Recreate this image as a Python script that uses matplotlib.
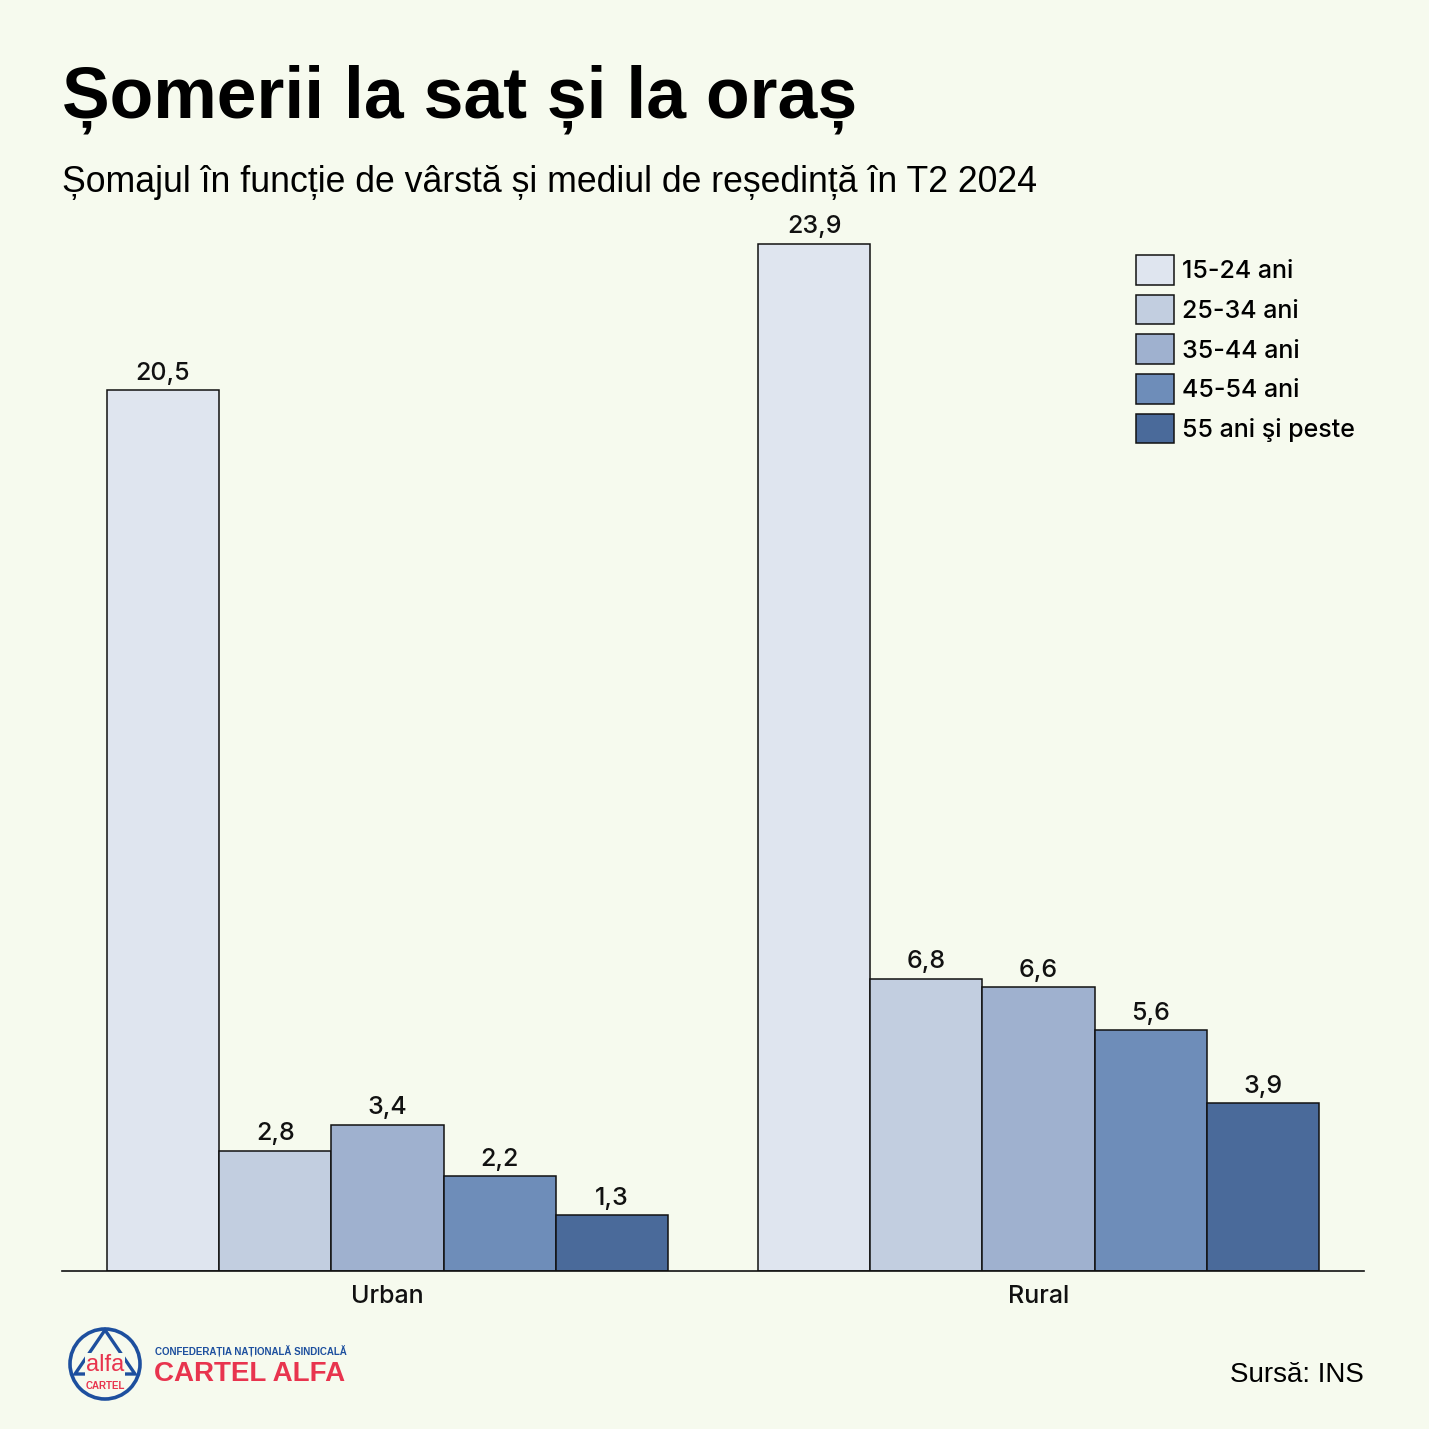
import matplotlib
matplotlib.use("Agg")
import matplotlib.pyplot as plt
import numpy as np
from matplotlib.patches import Circle, Polygon

# ---- data ----
categories = ["Urban", "Rural"]
age_groups = ["15-24 ani", "25-34 ani", "35-44 ani", "45-54 ani", "55 ani şi peste"]
values_15_24 = [20.5, 23.9]
values_25_34 = [2.8, 6.8]
values_35_44 = [3.4, 6.6]
values_45_54 = [2.2, 5.6]
values_55p = [1.3, 3.9]
series = [values_15_24, values_25_34, values_35_44, values_45_54, values_55p]

colors = ["#DFE5EF", "#C2CEE0", "#9FB1CF", "#6E8DB9", "#4A6A9A"]
BG = "#F6FAEE"
W = H = 1429

def fx(px):
    return px / W

def fy(py):
    return 1 - py / H

fig = plt.figure(figsize=(14.29, 14.29), dpi=100, facecolor=BG)

# main axes: x from 62 to 1364 px, baseline at 1271 px
px_per_unit = (1271 - 244) / 23.9
ymax = 25.0
top_px = 1271 - ymax * px_per_unit
ax = fig.add_axes([fx(62), fy(1271), fx(1364) - fx(62), (1271 - top_px) / H])
ax.set_facecolor(BG)

x = np.arange(len(categories))
bw = 0.1724
label_font = "Inter"
for i, (vals, col, name) in enumerate(zip(series, colors, age_groups)):
    pos = x + (i - 2) * bw
    bars = ax.bar(pos, vals, width=bw, color=col, edgecolor="#111111",
                  linewidth=1.1, label=name, zorder=2)
    ax.bar_label(bars, labels=[f"{v:.1f}".replace(".", ",") for v in vals],
                 padding=4, fontsize=18, family=label_font, fontweight="medium",
                 color="#111111")

ax.set_xlim(-0.5, 1.5)
ax.set_ylim(0, ymax)
ax.set_xticks(x)
ax.set_xticklabels(categories, fontsize=18, family=label_font,
                   fontweight="medium", color="#111111")
ax.tick_params(axis="x", length=0, pad=10)
ax.set_yticks([])
for s in ["top", "right", "left"]:
    ax.spines[s].set_visible(False)
ax.spines["bottom"].set_linewidth(1.2)
ax.spines["bottom"].set_color("#111111")

leg = ax.legend(loc="upper left", bbox_to_anchor=(fx(1136), fy(255)),
                bbox_transform=fig.transFigure, frameon=False,
                prop={"family": label_font, "size": 18, "weight": "medium"},
                handlelength=1.5, handleheight=1.45, labelspacing=0.4,
                handletextpad=0.35, borderpad=0, borderaxespad=0)

# ---- titles ----
fig.text(fx(62), fy(118), "Șomerii la sat și la oraș", fontsize=51.5,
         fontweight="bold", family="Liberation Sans", color="#000000",
         ha="left", va="baseline")
fig.text(fx(62), fy(192), "Șomajul în funcție de vârstă și mediul de reședință în T2 2024",
         fontsize=25.7, family="Liberation Sans", color="#000000",
         ha="left", va="baseline")
fig.text(fx(1364), fy(1382), "Sursă: INS", fontsize=20, family="Liberation Sans",
         color="#000000", ha="right", va="baseline")

# ---- logo ----
lax = fig.add_axes([0, 0, 1, 1], facecolor="none")
lax.set_xlim(0, W)
lax.set_ylim(H, 0)
lax.axis("off")
blue = "#1D4F9E"
red = "#E8344E"
cx, cy, r = 105, 1364, 35
lax.add_patch(Circle((cx, cy), r, fill=False, edgecolor=blue, linewidth=2.6))
tri = [(cx, 1330), (75, 1374), (135, 1374)]
lax.add_patch(Polygon(tri, closed=True, fill=False, edgecolor=blue, linewidth=2.4))
lax.text(cx, 1371, "alfa", fontsize=17, color=red, family="Liberation Sans",
         ha="center", va="baseline",
         bbox=dict(boxstyle="square,pad=0.05", facecolor=BG, edgecolor="none"))
lax.text(cx, 1386, "CARTEL", fontsize=7, fontweight="bold", color=red,
         family="Liberation Sans", ha="center", va="center")
lax.text(155, 1355, "CONFEDERAȚIA NAȚIONALĂ SINDICALĂ", fontsize=7.0,
         fontweight="bold", color=blue, family="Liberation Sans",
         ha="left", va="baseline")
lax.text(154, 1381, "CARTEL ALFA", fontsize=20, fontweight="bold", color=red,
         family="Liberation Sans", ha="left", va="baseline")

fig.savefig("out.png", dpi=100, facecolor=BG)
